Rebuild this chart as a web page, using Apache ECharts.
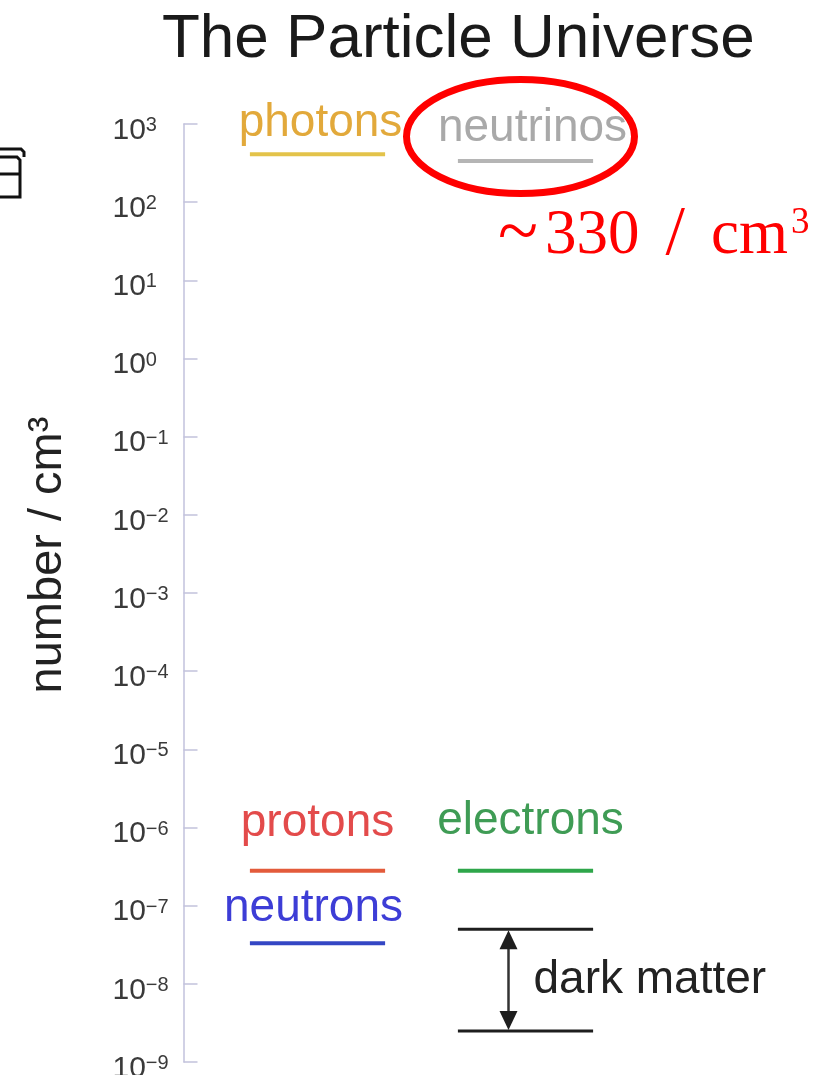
<!DOCTYPE html>
<html>
<head>
<meta charset="utf-8">
<script src="https://cdn.jsdelivr.net/npm/echarts@6/dist/echarts.min.js"></script>
<style>
  html, body { margin: 0; padding: 0; background: #ffffff; }
  #chart { width: 831px; height: 1075px; }
</style>
</head>
<body>
<div id="chart"></div>
<script>
// ---------------- data ----------------
const columns = ['left', 'right'];
const particles = ['photons', 'neutrinos', 'protons', 'electrons', 'neutrons'];
const particleColumn = ['left', 'right', 'left', 'right', 'left'];
const particleDensity = [411, 336, 2.8e-7, 2.8e-7, 3.3e-8];   // number / cm^3
const darkMatterLabel = 'dark matter';
const darkMatterColumn = 'right';
const darkMatterRange = [2.5e-9, 5e-8];                         // [low, high] number / cm^3
const tickExponents = [3, 2, 1, 0, -1, -2, -3, -4, -5, -6, -7, -8, -9];
const titleText = 'The Particle Universe';
const axisName = 'number / cm\u00B3';
const noteText = ['~', '330', '/', 'cm', '3'];

// ---------------- styles ----------------
const FONT = '"Liberation Sans", Arial, Helvetica, sans-serif';
const SERIF = '"Liberation Serif", "Times New Roman", serif';
const SEG_FRAC = 0.65;
const particleStyle = {
  photons:   { text: '#e2a93b', line: '#e3c34a', gap: 31, dx: 3 },
  neutrinos: { text: '#a9a9a9', line: '#b5b5b5', gap: 33, dx: 7 },
  protons:   { text: '#e34b4b', line: '#e35b3b', gap: 47, dx: 0 },
  electrons: { text: '#3f9c55', line: '#2ea64a', gap: 49, dx: 5 },
  neutrons:  { text: '#3d3dd6', line: '#3446c4', gap: 35, dx: -4 }
};
const axisColor = '#c2c2dc';

const chart = echarts.init(document.getElementById('chart'), null, { renderer: 'canvas' });

function tickLabel(v) {
  const e = Math.round(Math.log10(v));
  if (tickExponents.indexOf(e) < 0) return '';
  return '{b|10}{s|' + (e < 0 ? '\u2212' + (-e) : String(e)) + '}';
}

const option = {
  backgroundColor: '#ffffff',
  animation: false,
  title: {
    text: titleText,
    left: 162,
    top: 9,
    padding: 0,
    textStyle: { fontFamily: FONT, fontSize: 62, fontWeight: 'normal', color: '#1a1a1a' }
  },
  grid: { left: 213.5, right: 201.5, top: 124, bottom: 13, containLabel: false, outerBoundsMode: 'none' },
  xAxis: {
    type: 'category',
    data: columns,
    show: false,
    boundaryGap: true
  },
  yAxis: {
    type: 'log',
    logBase: 10,
    min: 1e-9,
    max: 1e3,
    interval: 1,
    splitNumber: 12,
    offset: 30,
    name: axisName,
    nameLocation: 'middle',
    nameRotate: 90,
    nameGap: 112,
    nameTextStyle: {
      fontFamily: FONT, fontSize: 47, color: '#222222',
      padding: [0, 0, 0, 76]
    },
    axisLine: { show: true, lineStyle: { color: axisColor, width: 1.5 } },
    axisTick: { show: true, inside: true, length: 14, lineStyle: { color: axisColor, width: 1.5 } },
    minorTick: { show: false },
    splitLine: { show: false },
    axisLabel: {
      show: true,
      align: 'left',
      margin: 71,
      padding: [13, 0, 0, 0],
      formatter: tickLabel,
      rich: {
        b: { fontFamily: FONT, fontSize: 30, color: '#3a3a3a', lineHeight: 30, verticalAlign: 'middle' },
        s: { fontFamily: FONT, fontSize: 20, color: '#3a3a3a', lineHeight: 30, verticalAlign: 'top' }
      }
    }
  },
  series: [
    {
      type: 'custom',
      name: 'particles',
      coordinateSystem: 'cartesian2d',
      data: particles.map((p, i) => [particleColumn[i], particleDensity[i]]),
      encode: { x: 0, y: 1 },
      renderItem: function (params, api) {
        const c = api.coord([api.value(0), api.value(1)]);
        const half = api.size([1, 0])[0] * SEG_FRAC / 2;
        const name = particles[params.dataIndex];
        const st = particleStyle[name];
        return {
          type: 'group',
          children: [
            {
              type: 'line',
              shape: { x1: c[0] - half, y1: c[1], x2: c[0] + half, y2: c[1] },
              style: { stroke: st.line, lineWidth: 4 }
            },
            {
              type: 'text',
              x: c[0] + st.dx,
              y: c[1] - st.gap,
              style: {
                text: name, fill: st.text,
                font: '46px ' + FONT,
                align: 'center', verticalAlign: 'middle'
              }
            }
          ]
        };
      }
    },
    {
      type: 'custom',
      name: 'dark matter',
      coordinateSystem: 'cartesian2d',
      data: [[darkMatterColumn, darkMatterRange[0], darkMatterRange[1]]],
      encode: { x: 0, y: [1, 2] },
      renderItem: function (params, api) {
        const lo = api.coord([api.value(0), api.value(1)]);
        const hi = api.coord([api.value(0), api.value(2)]);
        const half = api.size([1, 0])[0] * SEG_FRAC / 2;
        const cx = lo[0];
        const ax = cx - 17;
        const col = '#1e1e1e';
        const ah = 20, aw = 9;
        return {
          type: 'group',
          children: [
            { type: 'line', shape: { x1: cx - half, y1: hi[1], x2: cx + half, y2: hi[1] }, style: { stroke: col, lineWidth: 3 } },
            { type: 'line', shape: { x1: cx - half, y1: lo[1], x2: cx + half, y2: lo[1] }, style: { stroke: col, lineWidth: 3 } },
            { type: 'line', shape: { x1: ax, y1: hi[1] + ah - 2, x2: ax, y2: lo[1] - ah + 2 }, style: { stroke: '#333333', lineWidth: 2.5 } },
            { type: 'polygon', shape: { points: [[ax, hi[1] + 1], [ax - aw, hi[1] + ah], [ax + aw, hi[1] + ah]] }, style: { fill: col } },
            { type: 'polygon', shape: { points: [[ax, lo[1] - 1], [ax - aw, lo[1] - ah], [ax + aw, lo[1] - ah]] }, style: { fill: col } },
            {
              type: 'text',
              x: cx + 8,
              y: (hi[1] + lo[1]) / 2,
              style: { text: darkMatterLabel, fill: '#222222', font: '46px ' + FONT, align: 'left', verticalAlign: 'middle' }
            }
          ]
        };
      }
    }
  ],
  graphic: [
    {
      type: 'ellipse',
      shape: { cx: 520.5, cy: 136.5, rx: 114, ry: 57 },
      style: { fill: 'none', stroke: '#ff0000', lineWidth: 7 },
      z: 100
    },
    {
      type: 'text',
      x: 498,
      y: 236,
      z: 100,
      style: {
        text: '{a|' + noteText[0] + '}{b|' + noteText[1] + '}{c|' + noteText[2] + '}{b|' + noteText[3] + '}{s|' + noteText[4] + '}',
        verticalAlign: 'middle',
        align: 'left',
        rich: {
          a: { fontFamily: SERIF, fontSize: 74, fill: '#ff0000', lineHeight: 63, width: 47 },
          b: { fontFamily: SERIF, fontSize: 63, fill: '#ff0000', lineHeight: 63 },
          c: { fontFamily: SERIF, fontSize: 70, fill: '#ff0000', lineHeight: 63, padding: [0, 26, 0, 26] },
          s: { fontFamily: SERIF, fontSize: 37, fill: '#ff0000', lineHeight: 63, verticalAlign: 'top', padding: [0, 0, 0, 3] }
        }
      }
    },
    {
      type: 'polyline',
      shape: { points: [[-2, 149], [21, 149], [24, 152], [24, 157]] },
      style: { stroke: '#111111', lineWidth: 3, fill: null }
    },
    {
      type: 'polyline',
      shape: { points: [[-2, 157], [17, 157], [20, 160], [20, 197], [-2, 197]] },
      style: { stroke: '#111111', lineWidth: 3, fill: null }
    },
    {
      type: 'line',
      shape: { x1: -2, y1: 174, x2: 20, y2: 174 },
      style: { stroke: '#111111', lineWidth: 3 }
    }
  ]
};

chart.setOption(option);
</script>
</body>
</html>
